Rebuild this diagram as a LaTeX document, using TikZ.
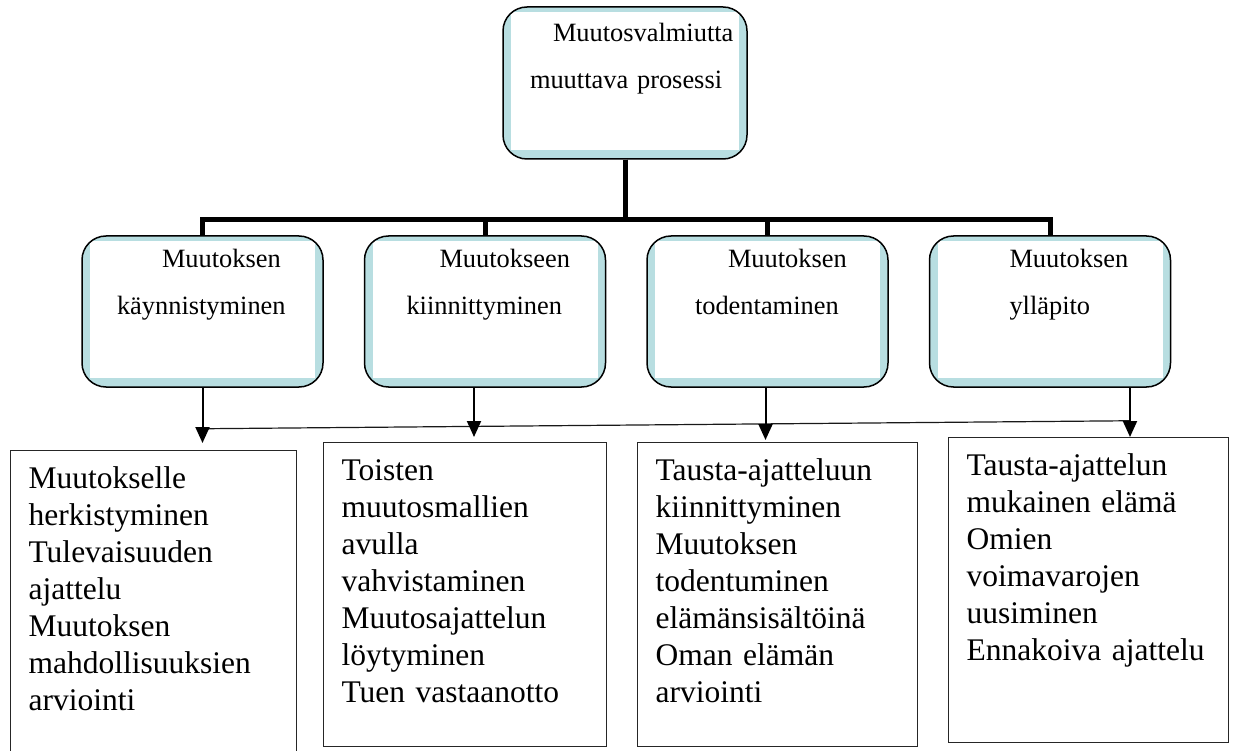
\documentclass[tikz,border=0pt]{standalone}
\usepackage{fontspec}
\setmainfont{Liberation Serif}
\usetikzlibrary{arrows.meta, positioning}
\definecolor{bandblue}{HTML}{B8DEE1}
\hyphenpenalty=10000
\exhyphenpenalty=10000

\begin{document}
\begin{tikzpicture}[
    x=1pt, y=1pt,
    >={Triangle[width=14pt,length=16pt]},
    roundbox/.style={
        draw,
        line width=1.5pt,
        rounded corners=24pt,
        fill=bandblue,
        inner sep=0pt,
        align=left,
        font=\fontsize{26.4}{47}\selectfont,
        path picture={
            \fill[white, sharp corners]
                ([xshift=8pt,yshift=-5pt]path picture bounding box.north west)
                rectangle ([xshift=-8pt,yshift=9pt]path picture bounding box.south east);
        }
    },
    midbox/.style={
        roundbox,
        text width=241pt,
        text height=32pt,
        text depth=119pt
    },
    leaf/.style={
        draw=black!85,
        line width=1.2pt,
        anchor=north west,
        inner xsep=18pt,
        inner ysep=0pt,
        align=left,
        text height=38pt,
        font=\fontsize{31.5}{37}\selectfont
    },
    bus/.style={line width=5pt},
    arrow/.style={->, line width=2pt},
    link/.style={line width=1.2pt, black!90}
]

\useasboundingbox (0,0) rectangle (1234,-751);

\node[roundbox, text width=244pt, text height=35pt, text depth=117pt] (top) at (625,-83)
    {\hspace*{50pt}Muutosvalmiutta\\\hspace*{27pt}muuttava prosessi};

\node[midbox] (m1) at (202.5,-311.5) {\hspace*{80pt}Muutoksen\\\hspace*{35pt}käynnistyminen};
\node[midbox, right=40pt of m1] (m2) {\hspace*{75pt}Muutokseen\\\hspace*{42pt}kiinnittyminen};
\node[midbox, right=40pt of m2] (m3) {\hspace*{81pt}Muutoksen\\\hspace*{48pt}todentaminen};
\node[midbox, right=40pt of m3] (m4) {\hspace*{80pt}Muutoksen\\\hspace*{80pt}ylläpito};

\node[leaf, text width=250pt, text depth=272pt] (b1) at (10,-450)
    {Muutokselle\\herkistyminen\\Tulevaisuuden\\ajattelu\\Muutoksen\\mahdollisuuksien\\arviointi};
\node[leaf, text width=247pt, text depth=266pt] (b2) at (323,-442)
    {Toisten\\muutosmallien\\avulla\\vahvistaminen\\Muutosajattelun\\löytyminen\\Tuen vastaanotto};
\node[leaf, text width=244pt, text depth=266pt] (b3) at (637,-442)
    {Tausta-ajatteluun\\kiinnittyminen\\Muutoksen\\todentuminen\\elämänsisältöinä\\Oman elämän\\arviointi};
\node[leaf, text width=244pt, text depth=267pt] (b4) at (948,-437)
    {Tausta-ajattelun\\mukainen elämä\\Omien\\voimavarojen\\uusiminen\\Ennakoiva ajattelu};

% thick tree lines
\foreach \m in {m1,m2,m3,m4}
    \draw[bus] (top.south) -- ++(0,-60) -| (\m.north);

% thin cross line
\path (m1.south) ++(0,-41) coordinate (j1);
\path ([xshift=80pt]m4.south) ++(0,-33) coordinate (j4);
\draw[link] (j1) -- (j4);

\draw[arrow, shorten >=7pt] (m1.south) -- (m1.south |- b1.north);
\draw[arrow, shorten >=5pt] ([xshift=-11pt]m2.south) -- ([xshift=-11pt]m2.south |- b2.north);
\draw[arrow, shorten >=2pt] ([xshift=-2pt]m3.south) -- ([xshift=-2pt]m3.south |- b3.north);
\draw[arrow] ([xshift=80pt]m4.south) -- ([xshift=80pt]m4.south |- b4.north);

\end{tikzpicture}
\end{document}
